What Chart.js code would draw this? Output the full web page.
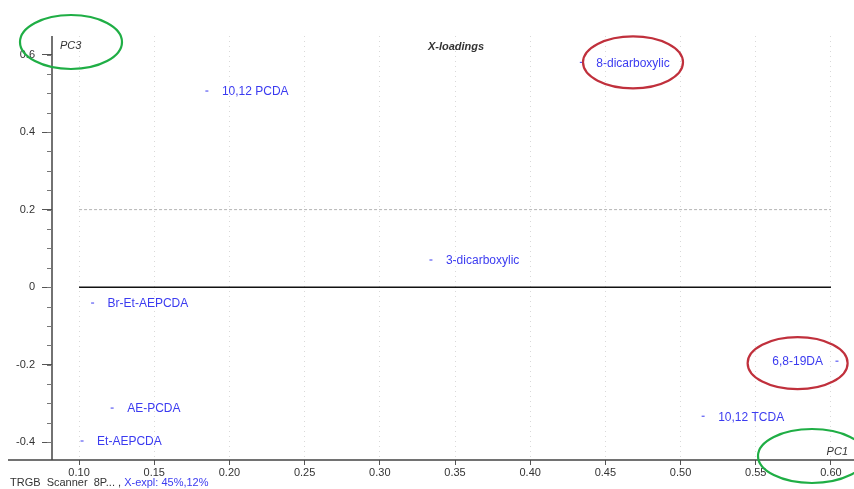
<!DOCTYPE html>
<html>
<head>
<meta charset="utf-8">
<title>X-loadings</title>
<script src="https://cdn.jsdelivr.net/npm/chart.js@4"></script>
<style>
  body { margin: 0; background: #fff; }
  #wrap { width: 854px; height: 489px; }
</style>
</head>
<body>
<div id="wrap"><canvas id="loadingsChart" width="854" height="489"></canvas></div>
<script>
// loadings for PC1 (x) vs PC3 (y)
const names = ['10,12 PCDA', '8-dicarboxylic', '3-dicarboxylic', 'Br-Et-AEPCDA', 'AE-PCDA', 'Et-AEPCDA', '6,8-19DA', '10,12 TCDA'];
const pc1 = [0.185, 0.434, 0.334, 0.109, 0.122, 0.102, 0.604, 0.515];
const pc3 = [0.506, 0.580, 0.070, -0.041, -0.312, -0.397, -0.191, -0.333];
const xTicks = [0.10, 0.15, 0.20, 0.25, 0.30, 0.35, 0.40, 0.45, 0.50, 0.55, 0.60];
const yTicks = [-0.4, -0.2, 0, 0.2, 0.4, 0.6];
const refSpan = [0.10, 0.60];   // extent of the zero line and the 0.2 guide
const circled = ['8-dicarboxylic', '6,8-19DA'];

const labelColor = '#3b3bf0';
const inkColor = '#333';
const fontFamily = '"Liberation Sans", Arial, sans-serif';

const points = pc1.map((v, i) => ({ x: v, y: pc3[i] }));

// labels beside each point, the annotation ellipses and the axis text
const overlay = {
  id: 'overlay',
  afterDatasetsDraw(chart) {
    const ctx = chart.ctx;
    const area = chart.chartArea;
    const xs = chart.scales.x, ys = chart.scales.y;
    const meta = chart.getDatasetMeta(2);
    ctx.save();

    // axis lines
    ctx.strokeStyle = '#444';
    ctx.lineWidth = 1.5;
    ctx.beginPath();
    ctx.moveTo(8, area.bottom);
    ctx.lineTo(chart.width, area.bottom);
    ctx.moveTo(area.left, area.top);
    ctx.lineTo(area.left, area.bottom);
    ctx.stroke();

    // minor ticks on the y axis
    ctx.lineWidth = 1;
    ctx.strokeStyle = '#777';
    for (let v = -0.4; v <= 0.6001; v += 0.05) {
      const py = Math.round(ys.getPixelForValue(v)) + 0.5;
      ctx.beginPath();
      ctx.moveTo(area.left - 5, py);
      ctx.lineTo(area.left, py);
      ctx.stroke();
    }

    // point labels
    ctx.font = '12px ' + fontFamily;
    ctx.fillStyle = labelColor;
    ctx.textBaseline = 'middle';
    const boxes = {};
    meta.data.forEach((el, i) => {
      const w = ctx.measureText(names[i]).width;
      let lx;
      if (names[i] === '6,8-19DA') {
        ctx.textAlign = 'right';
        lx = el.x - 14;
        boxes[names[i]] = { cx: lx - w / 2, cy: el.y + 2 };
      } else {
        ctx.textAlign = 'left';
        lx = el.x + 15;
        boxes[names[i]] = { cx: lx + w / 2, cy: el.y };
      }
      ctx.fillText(names[i], lx, el.y + 1);
    });

    // titles inside the plot
    ctx.fillStyle = inkColor;
    ctx.textAlign = 'center';
    ctx.font = 'italic bold 11px ' + fontFamily;
    ctx.fillText('X-loadings', (xs.getPixelForValue(refSpan[0]) + xs.getPixelForValue(refSpan[1])) / 2 + 1, area.top + 11);
    ctx.font = 'italic 11px ' + fontFamily;
    ctx.textAlign = 'left';
    ctx.fillText('PC3', area.left + 8, area.top + 10);
    ctx.textAlign = 'right';
    ctx.fillText('PC1', area.right - 1, area.bottom - 8);

    // status line under the axis
    ctx.textAlign = 'left';
    ctx.font = '11px ' + fontFamily;
    ctx.fillStyle = inkColor;
    const status = 'TRGB  Scanner  8P... , ';
    ctx.fillText(status, 10, chart.height - 6);
    ctx.fillStyle = labelColor;
    ctx.fillText('X-expl: 45%,12%', 10 + ctx.measureText(status).width, chart.height - 6);

    // hand-drawn style ellipses
    const ellipse = (cx, cy, rx, ry, color) => {
      ctx.beginPath();
      ctx.ellipse(cx, cy, rx, ry, 0, 0, Math.PI * 2);
      ctx.strokeStyle = color;
      ctx.lineWidth = 2.2;
      ctx.stroke();
    };
    circled.forEach(n => {
      const b = boxes[n];
      ellipse(b.cx, b.cy, 50, 26, '#c0303c');
    });
    ellipse(area.left + 19, area.top + 6, 51, 27, '#1fae45');
    ellipse(area.right - 37, area.bottom - 4, 54, 27, '#1fae45');

    ctx.restore();
  }
};

new Chart(document.getElementById('loadingsChart'), {
  type: 'scatter',
  data: {
    datasets: [
      {
        type: 'line',
        data: refSpan.map(v => ({ x: v, y: 0 })),
        borderColor: '#111',
        borderWidth: 1.5,
        pointRadius: 0
      },
      {
        type: 'line',
        data: refSpan.map(v => ({ x: v, y: 0.2 })),
        borderColor: 'rgba(0,0,0,0.3)',
        borderWidth: 1,
        borderDash: [3, 2],
        pointRadius: 0
      },
      {
        data: points,
        pointStyle: 'line',
        pointRadius: 1.5,
        pointBorderColor: labelColor,
        pointBorderWidth: 1
      }
    ]
  },
  options: {
    responsive: false,
    animation: false,
    layout: { padding: { top: 36, right: 2, left: 0, bottom: 0 } },
    plugins: {
      legend: { display: false },
      tooltip: { enabled: false }
    },
    scales: {
      x: {
        type: 'linear',
        min: 0.082,
        max: 0.612,
        afterBuildTicks: s => { s.ticks = xTicks.map(v => ({ value: v })); },
        afterFit: s => { s.height = 29; },
        border: { display: false, dash: [1, 4] },
        grid: {
          color: 'rgba(0,0,0,0.15)',
          tickColor: '#555',
          tickLength: 5
        },
        ticks: {
          color: inkColor,
          padding: 1,
          font: { family: fontFamily, size: 11 },
          callback: v => v.toFixed(2)
        }
      },
      y: {
        min: -0.446,
        max: 0.648,
        afterBuildTicks: s => { s.ticks = yTicks.map(v => ({ value: v })); },
        afterFit: s => { s.width = 52; },
        border: { display: false },
        grid: {
          drawOnChartArea: false,
          tickColor: '#555',
          tickLength: 10
        },
        ticks: {
          color: inkColor,
          padding: 7,
          font: { family: fontFamily, size: 11 },
          callback: v => (v === 0 ? '0' : String(+v.toFixed(1)))
        }
      }
    }
  },
  plugins: [overlay]
});
</script>
</body>
</html>
